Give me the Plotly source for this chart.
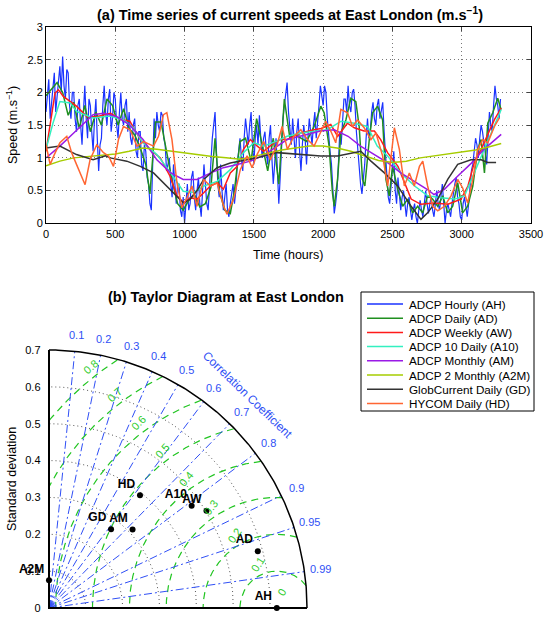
import numpy as np
import plotly.graph_objects as go

W, H = 544, 617
OFF = 0  # body margin removed via post_script

# ---------------- (a) time series data ----------------
series_names = ["ADCP Hourly (AH)", "ADCP Daily (AD)", "ADCP Weekly (AW)", "ADCP 10 Daily (A10)",
                "ADCP Monthly (AM)", "ADCP 2 Monthly (A2M)", "GlobCurrent Daily (GD)", "HYCOM Daily (HD)"]
series_colors = ["#1a33ff", "#1f8f1f", "#ff1a1a", "#33f0c0", "#9a1ae6", "#a6cc00", "#333333", "#ff6633"]

t_AH = list(range(0, 3281, 10))
v_AH = [1.7, 1.95, 2.2, 1.6, 1.8, 2.1, 2.3, 1.7, 1.9, 2.2, 2.4, 2.0, 2.55, 2.1, 1.9, 2.35, 2.3, 1.8, 1.6, 2.0,
        2.0, 1.6, 1.4, 1.8, 1.9, 1.5, 1.2, 1.7, 2.1, 1.6, 1.3, 1.9, 1.8, 1.4, 1.1, 1.6, 1.9, 1.3, 0.8, 1.2,
        1.3, 1.8, 2.1, 1.7, 1.5, 1.9, 2.05, 1.4, 1.6, 2.0, 1.9, 1.5, 1.3, 1.7, 2.0, 1.6, 1.5, 1.8, 1.9, 1.4,
        1.7, 1.3, 1.2, 1.5, 1.6, 1.1, 1.0, 1.4, 1.4, 0.9, 0.8, 1.2, 1.1, 0.7, 0.6, 0.3, 0.2, 0.9, 1.6, 1.3,
        1.7, 1.5, 1.4, 1.7, 1.65, 1.3, 1.2, 0.8, 0.9, 1.0, 0.6, 0.4, 0.9, 0.5, 0.3, 0.6, 0.6, 0.2, 0.1, 0.4,
        0.0, 0.3, 0.6, 0.2, 0.3, 0.7, 0.8, 0.4, 0.2, 0.5, 0.7, 0.3, 0.1, 0.5, 0.9, 0.6, 0.3, 0.2, 0.6, 1.0,
        1.3, 1.5, 1.7, 1.1, 0.6, 0.4, 0.9, 0.5, 0.2, 0.4, 0.6, 0.2, 0.1, 0.3, 0.5, 0.6, 0.3, 0.5, 0.9, 1.1,
        1.3, 1.0, 0.8, 1.3, 1.6, 1.4, 1.2, 1.5, 1.7, 1.2, 0.9, 1.3, 1.5, 1.2, 1.65, 1.3, 1.0, 1.3, 1.4, 1.1,
        0.9, 1.3, 1.5, 1.0, 0.6, 0.9, 1.3, 0.8, 0.3, 0.7, 1.2, 1.6, 1.8, 2.0, 2.15, 1.7, 1.4, 1.2, 1.6, 1.3,
        1.0, 1.4, 1.6, 1.1, 0.8, 1.2, 1.5, 1.3, 0.9, 1.3, 1.6, 1.4, 1.2, 1.5, 1.7, 1.3, 1.5, 1.8, 2.1, 1.9,
        1.8, 2.1, 2.0, 1.6, 1.3, 1.1, 0.9, 0.4, 0.15, 0.3, 0.5, 0.9, 1.4, 1.2, 1.6, 1.9, 1.9, 1.7, 2.1, 1.8,
        1.7, 2.0, 2.05, 1.8, 1.4, 1.1, 0.8, 0.6, 0.45, 0.7, 0.9, 1.3, 1.6, 1.3, 1.4, 1.7, 1.85, 1.6, 1.5, 1.8,
        1.9, 1.6, 1.75, 1.85, 1.4, 1.0, 0.6, 0.4, 0.3, 0.6, 0.9, 1.1, 0.5, 0.3, 0.7, 0.5, 0.2, 0.4, 0.5, 0.3,
        0.1, 0.3, 0.4, 0.2, 0.05, 0.2, 0.3, 0.1, 0.0, 0.2, 0.35, 0.2, 0.1, 0.3, 0.5, 0.3, 0.15, 0.3, 0.4, 0.2,
        0.1, 0.3, 0.5, 0.3, 0.2, 0.4, 0.6, 0.3, 0.0, 0.2, 0.3, 0.2, 0.1, 0.3, 0.5, 0.6, 0.7, 0.4, 0.3, 0.1,
        0.05, 0.3, 0.4, 0.2, 0.1, 0.3, 0.6, 0.8, 0.9, 1.1, 1.3, 1.2, 1.0, 1.3, 1.5, 1.4, 1.2, 1.0, 0.9, 1.3,
        1.7, 1.5, 1.4, 1.8, 2.1, 1.9, 1.8, 1.6, 1.9]

t_AD = [0, 40, 80, 120, 160, 200, 240, 280, 320, 360, 400, 440, 480, 520, 560, 600, 640, 680, 720, 750,
        790, 830, 870, 910, 950, 990, 1030, 1070, 1110, 1150, 1190, 1220, 1250, 1290, 1330, 1360, 1400,
        1440, 1480, 1520, 1560, 1600, 1640, 1680, 1720, 1760, 1800, 1840, 1880, 1935, 1983, 2007, 2043,
        2067, 2080, 2104, 2128, 2164, 2200, 2236, 2260, 2284, 2301, 2333, 2357, 2393, 2429, 2453, 2477,
        2501, 2538, 2574, 2610, 2646, 2682, 2718, 2754, 2790, 2827, 2863, 2899, 2935, 2971, 3007, 3043,
        3080, 3116, 3140, 3164, 3188, 3224, 3260, 3284]
v_AD = [1.95, 2.05, 2.15, 2.0, 1.65, 1.85, 1.45, 1.8, 1.4, 1.7, 1.5, 1.9, 1.8, 1.5, 1.75, 1.45, 1.35, 1.15, 0.9, 0.45,
        1.55, 1.55, 1.1, 0.65, 0.3, 0.2, 0.35, 0.45, 0.25, 0.3, 0.55, 1.3, 0.5, 0.2, 0.15, 0.5, 1.25,
        1.3, 0.95, 1.6, 1.2, 0.8, 1.3, 0.6, 1.9, 1.3, 1.35, 1.3, 1.25, 1.48, 1.79, 1.69, 1.18,
        0.47, 0.26, 0.67, 1.38, 1.58, 1.91, 1.86, 1.48, 0.67, 0.57, 1.28, 1.69, 1.79, 1.58, 0.67, 0.42,
        0.87, 0.52, 0.26, 0.37, 0.16, 0.26, 0.16, 0.42, 0.37, 0.26, 0.42, 0.16, 0.26, 0.62, 0.16, 0.26,
        0.57, 1.13, 1.28, 0.77, 1.53, 1.69, 1.91, 1.74]

t_AW = [0, 30, 65, 90, 125, 220, 295, 365, 415, 465, 535, 605, 680, 750, 825, 895, 945, 995, 1040, 1090,
        1140, 1185, 1235, 1280, 1330, 1380, 1425, 1475, 1525, 1570, 1645, 1690, 1740, 1840, 1935, 1985,
        2055, 2105, 2175, 2225, 2295, 2370, 2415, 2465, 2540, 2585, 2635, 2705, 2800, 2900, 2995, 3045,
        3090, 3140, 3190, 3235, 3285]
v_AW = [1.1, 1.53, 1.99, 2.04, 1.94, 1.79, 1.63, 1.63, 1.66, 1.68, 1.59, 1.56, 1.28, 1.13, 1.0, 0.72, 0.42, 0.31, 0.39, 0.37,
        0.47, 0.57, 0.62, 0.52, 0.77, 0.87, 1.13, 1.28, 1.18, 1.1, 1.23, 1.28, 1.28, 1.38, 1.43, 1.45,
        1.51, 1.33, 1.53, 1.46, 1.41, 1.41, 1.28, 1.08, 0.87, 0.62, 0.37, 0.29, 0.31, 0.29, 0.37, 0.57,
        0.92, 1.13, 1.38, 1.58, 1.76]

t_A10 = [0, 50, 100, 175, 220, 340, 460, 560, 630, 700, 800, 900, 990, 1065, 1140, 1235, 1330, 1425, 1500,
         1570, 1670, 1740, 1840, 1935, 2030, 2130, 2225, 2320, 2390, 2465, 2560, 2660, 2755, 2850, 2950,
         3020, 3090, 3165, 3225, 3285]
v_A10 = [1.13, 1.53, 1.86, 1.84, 1.71, 1.61, 1.64, 1.58, 1.46, 1.23, 1.05, 0.77, 0.49, 0.47, 0.57, 0.64, 0.82, 1.08, 1.23,
         1.18, 1.26, 1.33, 1.38, 1.41, 1.43, 1.56, 1.53, 1.48, 1.18, 1.03, 0.77, 0.57, 0.42, 0.39, 0.37,
         0.42, 0.77, 1.13, 1.43, 1.74]

t_AM = [0, 100, 200, 340, 415, 510, 600, 700, 800, 900, 990, 1090, 1190, 1280, 1380, 1475, 1570, 1670, 1740,
        1890, 1980, 2080, 2180, 2270, 2370, 2470, 2560, 2660, 2750, 2800, 2875, 2970, 3070, 3160, 3285]
v_AM = [1.0, 1.18, 1.38, 1.66, 1.68, 1.63, 1.51, 1.28, 0.97, 0.77, 0.67, 0.67, 0.77, 0.85, 0.9, 0.95, 1.04, 1.18, 1.28,
        1.36, 1.41, 1.43, 1.33, 1.18, 1.05, 0.92, 0.77, 0.64, 0.52, 0.44, 0.52, 0.72, 0.92, 1.13, 1.36]

t_A2M = [0, 100, 200, 300, 400, 500, 600, 700, 800, 900, 1000, 1100, 1200, 1300, 1400, 1500, 1600, 1700,
         1800, 1900, 2000, 2100, 2200, 2300, 2400, 2500, 2600, 2700, 2800, 2900, 3000, 3100, 3200, 3285]
v_A2M = [0.88, 0.95, 1.0, 1.02, 1.04, 1.06, 1.1, 1.15, 1.13, 1.1, 1.07, 1.04, 1.02, 1.0, 0.98, 1.02, 1.07, 1.12,
         1.15, 1.18, 1.18, 1.15, 1.1, 1.03, 0.96, 0.93, 0.95, 1.0, 1.03, 1.06, 1.08, 1.12, 1.17, 1.22]

t_GD = [0, 100, 220, 340, 430, 463, 583, 680, 776, 848, 945, 993, 1041, 1090, 1138, 1234, 1330, 1427, 1523,
        1668, 1742, 1863, 1983, 2104, 2200, 2272, 2345, 2442, 2538, 2635, 2706, 2754, 2827, 2899, 2971,
        3067, 3140, 3188, 3248]
v_GD = [1.15, 1.18, 1.05, 0.97, 1.03, 1.0, 0.95, 0.87, 0.77, 0.62, 0.42, 0.31, 0.37, 0.5, 0.67, 0.85, 0.92, 0.96, 1.0,
        1.08, 1.07, 1.05, 1.03, 1.03, 1.07, 1.1, 0.95, 0.77, 0.57, 0.26, 0.06, 0.16, 0.37, 0.67, 0.9,
        0.97, 0.97, 0.93, 0.93]

t_HD = [0, 30, 60, 100, 150, 185, 220, 258, 282, 318, 366, 415, 451, 487, 523, 559, 607, 656, 704, 776, 812,
        848, 872, 909, 945, 981, 1017, 1053, 1089, 1138, 1186, 1234, 1282, 1306, 1354, 1402, 1451, 1487,
        1523, 1571, 1619, 1668, 1704, 1742, 1790, 1839, 1887, 1935, 1983, 2019, 2055, 2091, 2128, 2176,
        2212, 2248, 2296, 2345, 2381, 2429, 2466, 2514, 2550, 2586, 2622, 2658, 2695, 2719, 2754, 2791,
        2827, 2875, 2923, 2971, 3007, 3043, 3080, 3116, 3152, 3188, 3236, 3272]
v_HD = [1.2, 0.9, 1.05, 1.23, 1.33, 1.08, 0.9, 0.72, 0.59, 0.97, 1.2, 1.08, 1.03, 0.87, 1.28, 1.48, 1.43, 1.18, 1.25, 1.18, 1.33,
        1.66, 1.69, 1.28, 0.62, 0.24, 0.39, 0.57, 0.26, 0.67, 0.57, 0.62, 0.26, 0.14, 0.37, 0.82, 1.03, 0.85,
        1.05, 1.25, 0.97, 1.2, 1.48, 1.13, 1.33, 1.43, 1.28, 1.18, 1.41, 1.56, 1.41, 1.23, 1.74, 1.69,
        1.48, 1.58, 1.46, 1.28, 1.38, 1.03, 0.57, 1.46, 1.13, 0.57, 0.77, 0.57, 0.87, 0.95, 0.57, 0.26,
        0.19, 0.26, 0.42, 0.67, 0.54, 0.31, 0.67, 1.13, 1.28, 1.23, 1.48, 1.61]

series_t = [t_AH, t_AD, t_AW, t_A10, t_AM, t_A2M, t_GD, t_HD]
series_v = [v_AH, v_AD, v_AW, v_A10, v_AM, v_A2M, v_GD, v_HD]
series_w = [1.2, 1.5, 1.5, 1.5, 1.5, 1.5, 1.5, 1.5]

x_ticks = [0, 500, 1000, 1500, 2000, 2500, 3000, 3500]
y_ticks = [0, 0.5, 1, 1.5, 2, 2.5, 3]

# ---------------- (b) Taylor diagram data ----------------
taylor_labels = ["AH", "AD", "AW", "A10", "AM", "A2M", "GD", "HD"]
taylor_std = [0.618, 0.587, 0.502, 0.476, 0.311, 0.075, 0.272, 0.393]
taylor_corr = [1.0, 0.965, 0.851, 0.813, 0.729, 0.0, 0.619, 0.628]
corr_ticks = [0.1, 0.2, 0.3, 0.4, 0.5, 0.6, 0.7, 0.8, 0.9, 0.95, 0.99]
std_arcs = [0.1, 0.2, 0.3, 0.4, 0.5, 0.6]
rms_levels = [0.1, 0.2, 0.3, 0.4, 0.5, 0.6, 0.7, 0.8]
std_ticks = [0, 0.1, 0.2, 0.3, 0.4, 0.5, 0.6, 0.7]
R_MAX = 0.7

FONT = "Arial, Liberation Sans, sans-serif"
BLUE_T = "#2f4ff5"
GREEN_T = "#2ecc2e"


def PXx(x):  # page pixel x -> paper
    return (x - OFF) / W


def PXy(y):  # page pixel y -> paper
    return 1 - (y - OFF) / H


PX = 368.6  # pixels per unit std
tx0, ty0 = 49, 608  # page pixels of Taylor origin
lo, hi = -0.004, 0.708


def tpaper(x, y):
    return PXx(tx0 + x * PX), PXy(ty0 - y * PX)


fig = go.Figure()

# ---- top series
for name, t, v, c, w in zip(series_names, series_t, series_v, series_colors, series_w):
    fig.add_trace(go.Scatter(x=t, y=v, mode="lines", name=name, line=dict(color=c, width=w),
                             xaxis="x", yaxis="y", showlegend=False))

# ---- Taylor background
ang = np.linspace(0, np.pi / 2, 181)
for r in std_arcs:
    fig.add_trace(go.Scatter(x=r * np.cos(ang), y=r * np.sin(ang), mode="lines",
                             line=dict(color="#555555", width=1, dash="1px,3px"),
                             xaxis="x2", yaxis="y2", showlegend=False, hoverinfo="skip"))

ref = taylor_std[0]
phi = np.linspace(0, np.pi, 721)
for rr in rms_levels:
    xs = ref + rr * np.cos(phi)
    ys = rr * np.sin(phi)
    ok = (xs ** 2 + ys ** 2 <= R_MAX ** 2) & (xs >= 0)
    xs = np.where(ok, xs, np.nan)
    ys = np.where(ok, ys, np.nan)
    fig.add_trace(go.Scatter(x=xs, y=ys, mode="lines", connectgaps=False,
                             line=dict(color="#22c522", width=1.2, dash="7px,5px"),
                             xaxis="x2", yaxis="y2", showlegend=False, hoverinfo="skip"))

for c in corr_ticks:
    s = np.sqrt(1 - c ** 2)
    fig.add_trace(go.Scatter(x=[0, R_MAX * c], y=[0, R_MAX * s], mode="lines",
                             line=dict(color="#2f4ff5", width=1, dash="8px,3px,2px,3px"),
                             xaxis="x2", yaxis="y2", showlegend=False, hoverinfo="skip"))

# outer arc and axes lines
fig.add_trace(go.Scatter(x=R_MAX * np.cos(ang), y=R_MAX * np.sin(ang), mode="lines",
                         line=dict(color="black", width=1.5), xaxis="x2", yaxis="y2",
                         showlegend=False, hoverinfo="skip"))
fig.add_trace(go.Scatter(x=[0, 0, R_MAX], y=[R_MAX, 0, 0], mode="lines",
                         line=dict(color="black", width=2), xaxis="x2", yaxis="y2",
                         showlegend=False, hoverinfo="skip"))

# points
tx = [s * c for s, c in zip(taylor_std, taylor_corr)]
ty = [s * np.sqrt(max(0.0, 1 - c ** 2)) for s, c in zip(taylor_std, taylor_corr)]
fig.add_trace(go.Scatter(x=tx, y=ty, mode="markers+text", text=taylor_labels,
                         textposition="top left", cliponaxis=False,
                         marker=dict(color="black", size=6),
                         textfont=dict(family=FONT, size=12, color="black", weight="bold"),
                         xaxis="x2", yaxis="y2", showlegend=False))

annotations = []
# correlation labels
for c in corr_ticks:
    rl = 0.745
    s = np.sqrt(1 - c ** 2)
    px_, py_ = tpaper(rl * c, rl * s)
    annotations.append(dict(x=px_, y=py_, xref="paper", yref="paper", text=f"{c:g}", showarrow=False,
                            font=dict(family=FONT, size=11, color=BLUE_T), xanchor="center", yanchor="middle"))
px_, py_ = tpaper(0.79 * np.cos(np.radians(47)), 0.79 * np.sin(np.radians(47)))
annotations.append(dict(x=px_, y=py_, xref="paper", yref="paper", xanchor="center", yanchor="middle",
                        text="Correlation Coefficient", showarrow=False, textangle=44,
                        font=dict(family=FONT, size=12, color=BLUE_T)))
# RMS labels
for rr in [0.0] + rms_levels:
    px_, py_ = tpaper(0.632 - 0.65 * rr, 0.043 + 0.765 * rr)
    annotations.append(dict(x=px_, y=py_, xref="paper", yref="paper", xanchor="center", yanchor="middle",
                            text=f"{rr:g}", showarrow=False, textangle=-(40 + (0.8 - rr) * 25),
                            font=dict(family=FONT, size=11, color=GREEN_T)))

# titles / axis titles
annotations += [
    dict(x=PXx(290), y=PXy(14), xref="paper", yref="paper", showarrow=False, xanchor="center", yanchor="middle",
         text="<b>(a) Time series of current speeds at East London (m.s<sup>−1</sup>)</b>",
         font=dict(family=FONT, size=14.5, color="black")),
    dict(x=PXx(288), y=PXy(255), xref="paper", yref="paper", showarrow=False, xanchor="center", yanchor="middle",
         text="Time (hours)", font=dict(family=FONT, size=12.5, color="black")),
    dict(x=PXx(12), y=PXy(125), xref="paper", yref="paper", showarrow=False, textangle=-90,
         xanchor="center", yanchor="middle",
         text="Speed (m.s<sup>−1</sup>)", font=dict(family=FONT, size=12.5, color="black")),
    dict(x=PXx(226), y=PXy(297), xref="paper", yref="paper", showarrow=False, xanchor="center", yanchor="middle",
         text="<b>(b) Taylor Diagram at East London</b>", font=dict(family=FONT, size=14.5, color="black")),
    dict(x=PXx(12), y=PXy(479), xref="paper", yref="paper", showarrow=False, textangle=-90,
         xanchor="center", yanchor="middle",
         text="Standard deviation", font=dict(family=FONT, size=12.5, color="black")),
]

# manual legend
shapes = [dict(type="rect", xref="paper", yref="paper", x0=PXx(361), x1=PXx(534), y0=PXy(411), y1=PXy(292),
               line=dict(color="black", width=1), fillcolor="white", layer="above")]
for i, (name, c) in enumerate(zip(series_names, series_colors)):
    yy = PXy(304 + 14.2 * i)
    shapes.append(dict(type="line", xref="paper", yref="paper", x0=PXx(367), x1=PXx(403), y0=yy, y1=yy,
                       line=dict(color=c, width=1.5), layer="above"))
    annotations.append(dict(x=PXx(407), y=yy, xref="paper", yref="paper", text=name, showarrow=False,
                            xanchor="left", yanchor="middle", font=dict(family=FONT, size=11.7, color="black")))

fig.update_layout(
    template="none",
    width=W, height=H, autosize=False, margin=dict(l=0, r=0, t=0, b=0, pad=0, autoexpand=False),
    paper_bgcolor="white", plot_bgcolor="white", showlegend=False,
    font=dict(family=FONT, size=11, color="black"),
    xaxis=dict(domain=[PXx(46), PXx(531)], range=[0, 3500], tickvals=x_ticks, ticks="inside", ticklen=4,
               showline=True, linecolor="black", linewidth=1, mirror="ticks", showgrid=True,
               gridcolor="#777777", griddash="1px,3px", gridwidth=1, zeroline=False, automargin=False,
               tickfont=dict(size=11), anchor="y"),
    yaxis=dict(domain=[PXy(223.3), PXy(27)], range=[0, 3], tickvals=y_ticks, ticks="inside", ticklen=4,
               showline=True, linecolor="black", linewidth=1, mirror="ticks", showgrid=True,
               gridcolor="#777777", griddash="1px,3px", gridwidth=1, zeroline=False, automargin=False,
               tickfont=dict(size=11), anchor="x"),
    xaxis2=dict(domain=[PXx(tx0 + lo * PX), PXx(tx0 + hi * PX)], range=[lo, hi], showgrid=False,
                showticklabels=False, showline=False, zeroline=False, ticks="", anchor="y2", automargin=False),
    yaxis2=dict(domain=[PXy(ty0 - lo * PX), PXy(ty0 - hi * PX)], range=[lo, hi], showgrid=False,
                tickvals=std_ticks, ticks="", showline=False, zeroline=False, ticklabelstandoff=6,
                tickfont=dict(size=11), anchor="x2", automargin=False),
    annotations=annotations, shapes=shapes,
)

fig.write_html("out.html", config={"displayModeBar": False},
               post_script="document.body.style.margin='0px';document.body.style.overflow='hidden';")
